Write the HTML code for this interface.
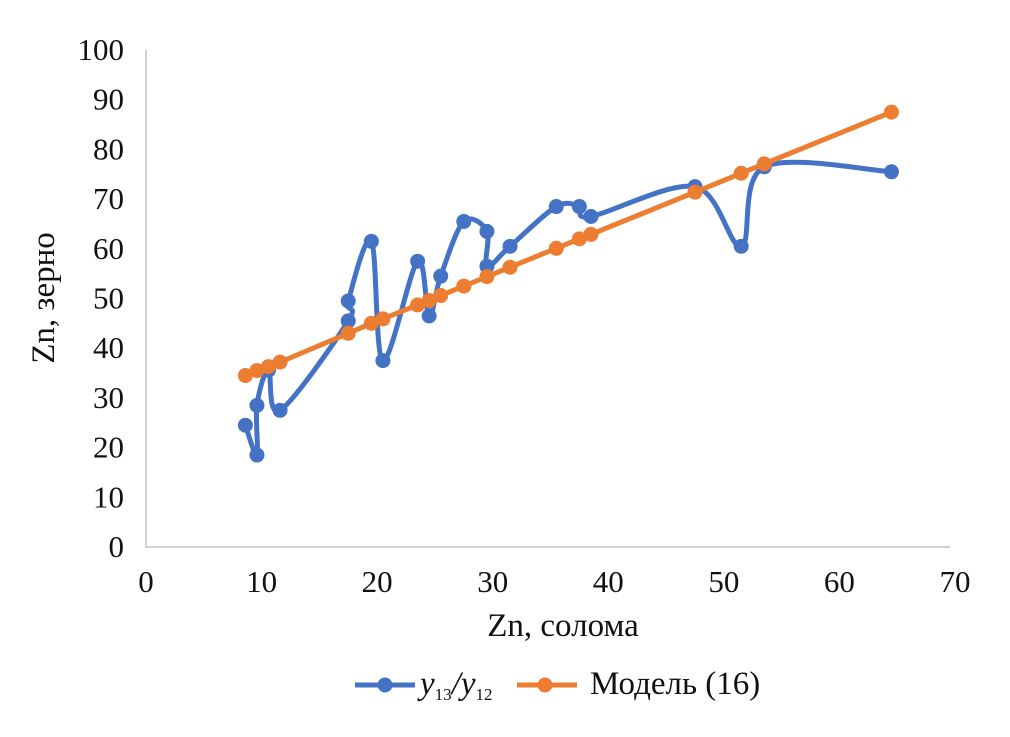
<!DOCTYPE html>
<html><head><meta charset="utf-8"><style>
body{margin:0;background:#fff}
svg text{font-family:"Liberation Serif",serif;fill:#111}
</style></head><body>
<svg id="c" width="1010" height="732" xmlns="http://www.w3.org/2000/svg"></svg>
<script>
const xTicks=[0,10,20,30,40,50,60,70];
const yTicks=[0,10,20,30,40,50,60,70,80,90,100];
const obsX=[8.6,9.6,9.6,10.6,11.6,17.5,17.5,19.5,20.5,23.5,24.5,25.5,27.5,29.5,29.5,31.5,35.5,37.5,38.5,47.5,51.5,53.5,64.5];
const obsY=[24.5,18.5,28.5,35.6,27.5,45.5,49.5,61.5,37.5,57.5,46.5,54.5,65.5,63.5,56.5,60.5,68.5,68.5,66.5,72.5,60.5,76.5,75.5];
const modX=[8.6,9.6,10.6,11.6,17.5,19.5,20.5,23.5,24.5,25.5,27.5,29.5,31.5,35.5,37.5,38.5,47.5,51.5,53.5,64.5];
const modY=[34.5,35.5,36.3,37.2,43,45,45.9,48.7,49.6,50.6,52.5,54.4,56.3,60.1,62,62.9,71.4,75.2,77.1,87.5];
const svg=document.getElementById('c');const NS='http://www.w3.org/2000/svg';
const X0=146,X1=955,Y0=547,Y1=50;
const sx=v=>X0+(v-0)/70*(X1-X0), sy=v=>Y0-(v/100)*(Y0-Y1);
function mk(t,a,txt){const e=document.createElementNS(NS,t);for(const k in a)e.setAttribute(k,a[k]);if(txt!=null)e.textContent=txt;svg.appendChild(e);return e;}
let ax=mk('path',{d:`M${X0} ${Y1}V${Y0}H950`,fill:'none',stroke:'#d0d0d0','stroke-width':2});


xTicks.forEach(t=>{let e=mk('text',{x:sx(t),y:592,'font-size':31,'text-anchor':'middle'},t);

});
yTicks.forEach(t=>{let e=mk('text',{x:124,y:sy(t)+10,'font-size':31,'text-anchor':'end'},t);

});
let yt=mk('text',{x:0,y:0,'font-size':33,'text-anchor':'middle',transform:'translate(54,298) rotate(-90)'},'Zn, зерно');


let xt=mk('text',{x:563,y:636,'font-size':33,'text-anchor':'middle'},'Zn, солома');


function smooth(pts){let d=`M${pts[0][0]} ${pts[0][1]}`;for(let i=0;i<pts.length-1;i++){const p0=pts[Math.max(0,i-1)],p1=pts[i],p2=pts[i+1],p3=pts[Math.min(pts.length-1,i+2)];const t=6;d+=`C${p1[0]+(p2[0]-p0[0])/t} ${p1[1]+(p2[1]-p0[1])/t},${p2[0]-(p3[0]-p1[0])/t} ${p2[1]-(p3[1]-p1[1])/t},${p2[0]} ${p2[1]}`;}return d;}
const ob=obsX.map((x,i)=>[sx(x),sy(obsY[i])]);
let l1=mk('path',{d:smooth(ob),fill:'none',stroke:'#4472c4','stroke-width':5});


ob.forEach(p=>{let c=mk('circle',{cx:p[0],cy:p[1],r:7.5,fill:'#4472c4'});

});
const md=modX.map((x,i)=>[sx(x),sy(modY[i])]);
let l2=mk('path',{d:'M'+md.map(p=>p.join(' ')).join('L'),fill:'none',stroke:'#ed7d31','stroke-width':5});


md.forEach(p=>{let c=mk('circle',{cx:p[0],cy:p[1],r:7.5,fill:'#ed7d31'});

});
let g1=mk('path',{d:'M355 685H415',stroke:'#4472c4','stroke-width':5});


let g1c=mk('circle',{cx:385,cy:685,r:7.5,fill:'#4472c4'});


let lt=mk('text',{x:420,y:694,'font-size':33,'font-style':'italic'});


lt.innerHTML='y<tspan font-size="17" font-style="normal" dy="6">13</tspan><tspan dy="-6">/y</tspan><tspan font-size="17" font-style="normal" dy="6">12</tspan>';
let g2=mk('path',{d:'M517 685H577',stroke:'#ed7d31','stroke-width':5});


let g2c=mk('circle',{cx:545,cy:685,r:7.5,fill:'#ed7d31'});


let mt=mk('text',{x:590,y:694,'font-size':33},'Модель (16)');


</script>
</body></html>
